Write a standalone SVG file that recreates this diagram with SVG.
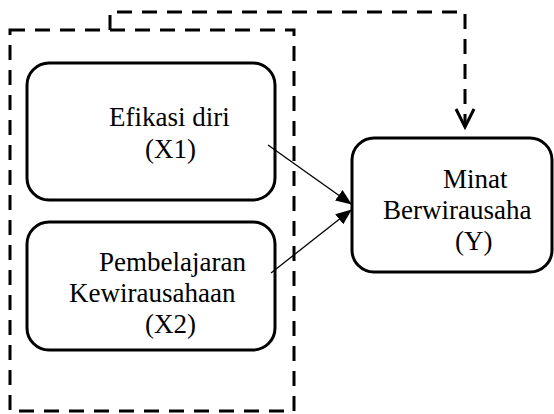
<svg xmlns="http://www.w3.org/2000/svg" width="554" height="414" viewBox="0 0 554 414">
<style>
.box{fill:#fff;stroke:#000;stroke-width:3}
.dash{fill:none;stroke:#000;stroke-width:3;stroke-dasharray:15 10}
.t{font-family:"Liberation Serif","Times New Roman",serif;font-size:27px;fill:#000}
.arr{stroke:#000;stroke-width:1.3}
</style>
<defs>
<marker id="ah" markerWidth="16" markerHeight="13" refX="15" refY="6.5" orient="auto" markerUnits="userSpaceOnUse" viewBox="0 0 16 13">
<path d="M0,0 L16,6.5 L0,13 Z" fill="#000"/>
</marker>
<marker id="vh" markerWidth="24" markerHeight="24" refX="20" refY="10" orient="auto" markerUnits="userSpaceOnUse" viewBox="0 0 24 20">
<path d="M2,1 L20,10 L2,19" fill="none" stroke="#000" stroke-width="3"/>
</marker>
</defs>
<g id="group-x">
<rect class="dash" x="10" y="30" width="284" height="381"/>
</g>
<g id="node-x1">
<rect class="box" x="27" y="63" width="248" height="137" rx="22"/>
<text class="t" x="109" y="126">Efikasi diri</text>
<text class="t" x="145" y="158">(X1)</text>
</g>
<g id="node-x2">
<rect class="box" x="27" y="222" width="248" height="128" rx="22"/>
<text class="t" x="99" y="271">Pembelajaran</text>
<text class="t" x="69" y="302">Kewirausahaan</text>
<text class="t" x="145" y="333">(X2)</text>
</g>
<g id="node-y">
<rect class="box" x="352" y="138" width="200" height="134" rx="22"/>
<text class="t" x="443" y="188">Minat</text>
<text class="t" x="383" y="219">Berwirausaha</text>
<text class="t" x="455" y="250">(Y)</text>
</g>
<g id="connectors">
<line class="arr" x1="268" y1="145" x2="351" y2="204" marker-end="url(#ah)"/>
<line class="arr" x1="271" y1="273" x2="351" y2="210" marker-end="url(#ah)"/>
<path class="dash" d="M110,30 V12 H465 V127" marker-end="url(#vh)"/>
</g>
</svg>
